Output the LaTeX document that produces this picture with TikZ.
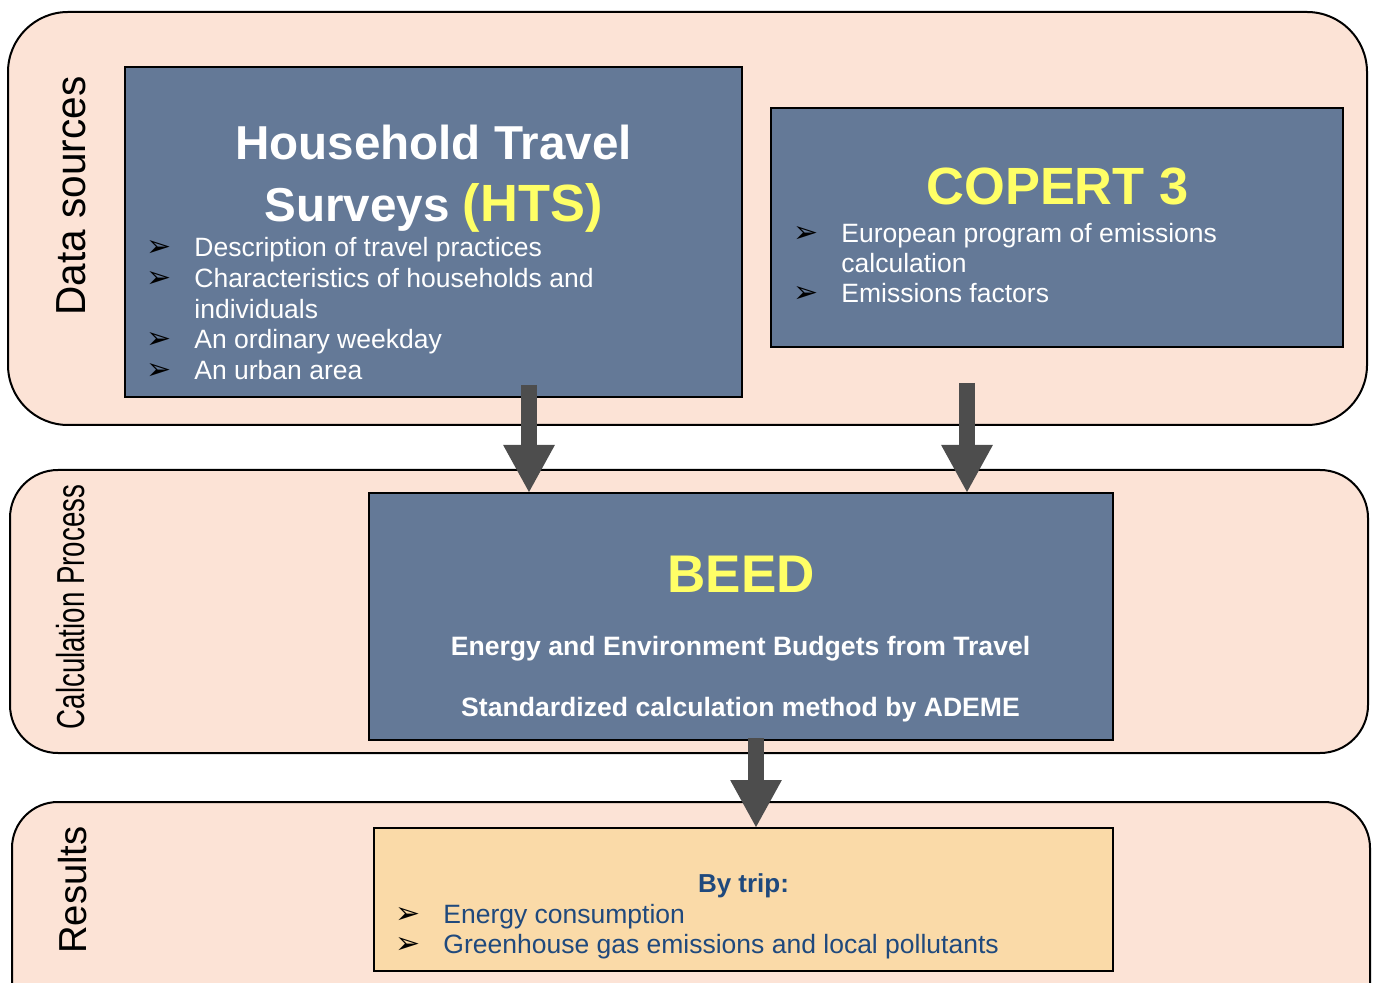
\documentclass[tikz,border=0pt]{standalone}
\usepackage{fontspec}
\setmainfont{Liberation Sans}
\newfontfamily\symfont{DejaVu Sans}
\usetikzlibrary{arrows.meta}
\definecolor{band}{RGB}{252,227,214}
\definecolor{slate}{RGB}{100,121,151}
\definecolor{resfill}{RGB}{250,218,168}
\definecolor{hiyellow}{RGB}{255,255,102}
\definecolor{arrgray}{RGB}{77,77,77}
\definecolor{resblue}{RGB}{31,73,125}
\tikzset{
 bandbox/.style={draw=black, line width=1pt, fill=band},
 bluebox/.style={draw=black, line width=1pt, fill=slate, inner sep=0pt, outer sep=0pt},
 resbox/.style={draw=black, line width=1pt, fill=resfill, inner sep=0pt, outer sep=0pt},
 bigarrow/.style={draw=arrgray, line width=8pt, -{Triangle[length=24pt,width=24pt]}},
 sidelabel/.style={rotate=90, anchor=base, inner sep=0pt, text=black},
 txt/.style={inner sep=0pt, anchor=base west, font=\fontsize{13.25pt}{15pt}\selectfont},
 bul/.style={inner sep=0pt, anchor=base west, font=\symfont\fontsize{15pt}{17pt}\selectfont, text=black},
 ctr/.style={inner sep=0pt, anchor=base},
}
\begin{document}
\begin{tikzpicture}[x=0.5pt,y=-0.5pt]
\useasboundingbox (0,0) rectangle (1375,983);
\clip (0,0) rectangle (1375,983);

% bands
\draw[bandbox, rounded corners=30pt] (8,12) rectangle (1367,425);
\draw[bandbox, rounded corners=24pt] (10,470) rectangle (1368,753);
\draw[bandbox, rounded corners=23pt] (12,802) rectangle (1370,1060);

% side labels
\node[sidelabel, font=\fontsize{21pt}{24pt}\selectfont] (lds) at (85,196) {\scalebox{0.965}[1]{Data sources}};
\node[sidelabel, font=\fontsize{19.5pt}{22pt}\selectfont] (lcp) at (84,607) {\scalebox{0.71}[1]{Calculation Process}};
\node[sidelabel, font=\fontsize{19.5pt}{22pt}\selectfont] (lres) at (86,890) {\scalebox{0.98}[1]{Results}};

% boxes
\node[bluebox, minimum width=308.5pt, minimum height=165pt] (hts) at (433.5,232) {};
\node[bluebox, minimum width=286pt, minimum height=119.5pt] (cop) at (1057,227.5) {};
\node[bluebox, minimum width=372pt, minimum height=123.5pt] (beed) at (741,616.5) {};
\node[resbox, minimum width=369.5pt, minimum height=71.5pt] (res) at (743.5,899.5) {};

% HTS text
\node[ctr, text=white, font=\fontsize{23.8pt}{26pt}\selectfont\bfseries] (htsA) at (433.5,160) {Household Travel};
\node[ctr, text=white, font=\fontsize{23.8pt}{26pt}\selectfont\bfseries] (htsB) at (433.5,222) {Surveys {\color{hiyellow}\fontsize{26.2pt}{28pt}\selectfont(HTS)}};
\node[bul] (hb1) at (146,257) {➢};
\node[txt, text=white] (ht1) at (194,257) {Description of travel practices};
\node[bul] (hb2) at (146,287.6) {➢};
\node[txt, text=white] (ht2) at (194,287.6) {Characteristics of households and};
\node[txt, text=white] (ht2b) at (194,318.2) {individuals};
\node[bul] (hb3) at (146,348.8) {➢};
\node[txt, text=white] (ht3) at (194,348.8) {An ordinary weekday};
\node[bul] (hb4) at (146,379.4) {➢};
\node[txt, text=white] (ht4) at (194,379.4) {An urban area};

% COPERT text
\node[ctr, text=hiyellow, font=\fontsize{26.2pt}{28pt}\selectfont\bfseries] (copT) at (1057.5,205) {COPERT 3};
\node[bul] (cb1) at (793,243) {➢};
\node[txt, text=white] (ct1) at (841,243) {European program of emissions};
\node[txt, text=white] (ct1b) at (841,273) {calculation};
\node[bul] (cb2) at (793,303) {➢};
\node[txt, text=white] (ct2) at (841,303) {Emissions factors};

% BEED text
\node[ctr, text=hiyellow, font=\fontsize{26.5pt}{28pt}\selectfont\bfseries] (beedT) at (741,592) {BEED};
\node[ctr, text=white, font=\fontsize{13.3pt}{15pt}\selectfont\bfseries] (beed1) at (740.5,655) {Energy and Environment Budgets from Travel};
\node[ctr, text=white, font=\fontsize{13.3pt}{15pt}\selectfont\bfseries] (beed2) at (740.5,716) {Standardized calculation method by ADEME};

% Results text
\node[ctr, text=resblue, font=\fontsize{13pt}{15pt}\selectfont\bfseries] (resT) at (743.5,892) {By trip:};
\node[bul] (rb1) at (395,923) {➢};
\node[txt, text=resblue] (rt1) at (443,923) {Energy consumption};
\node[bul] (rb2) at (395,953) {➢};
\node[txt, text=resblue] (rt2) at (443,953) {Greenhouse gas emissions and local pollutants};

% arrows
\coordinate (a1) at (529,385);
\coordinate (a2) at (967,383);
\coordinate (a3) at (756,738);
\draw[bigarrow] (a1) -- (a1 |- beed.north);
\draw[bigarrow] (a2) -- (a2 |- beed.north);
\draw[bigarrow] (a3) -- (a3 |- res.north);
\end{tikzpicture}
\end{document}
